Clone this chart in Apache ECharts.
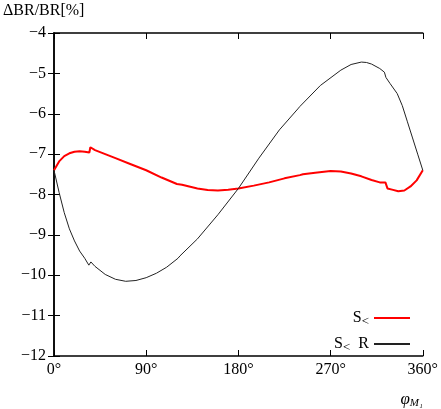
<!DOCTYPE html>
<html><head><meta charset="utf-8">
<script src="https://cdn.jsdelivr.net/npm/echarts@6/dist/echarts.min.js"></script>
<style>html,body{margin:0;padding:0;background:#fff}#c{width:441px;height:409px}</style>
</head><body><div id="c"></div>
<script>
const redX = [0,5,10,15,20,25,30,34.5,35.5,40,50,60,75,90,105,120,125,140,150,160,170,180,195,210,225,240,243,255,270,280,290,300,310,318,323.5,325.5,330,336,342,348,354,360];
const redY = [-7.4,-7.18,-7.05,-6.98,-6.94,-6.93,-6.94,-6.96,-6.83,-6.9,-7.0,-7.1,-7.25,-7.4,-7.58,-7.74,-7.76,-7.85,-7.89,-7.9,-7.88,-7.85,-7.78,-7.7,-7.6,-7.52,-7.5,-7.46,-7.42,-7.43,-7.48,-7.55,-7.64,-7.7,-7.7,-7.85,-7.88,-7.92,-7.9,-7.8,-7.65,-7.4];
const blkX = [0,5,10,15,20,25,30,34,36,40,50,60,70,80,90,100,110,121,123,140,160,180,200,220,238,240,260,280,290,300,305,310,318,322.5,324,328,335,340,345,350,355,360];
const blkY = [-7.4,-7.95,-8.45,-8.85,-9.15,-9.4,-9.58,-9.75,-9.67,-9.78,-9.98,-10.1,-10.15,-10.13,-10.06,-9.95,-9.8,-9.58,-9.52,-9.1,-8.5,-7.85,-7.1,-6.4,-5.88,-5.82,-5.3,-4.92,-4.78,-4.72,-4.73,-4.77,-4.88,-4.97,-5.1,-5.25,-5.5,-5.8,-6.2,-6.6,-7.0,-7.4];
const xTicks = [0,90,180,270,360];
const yMin=-12, yMax=-4;
const F='"Liberation Serif","DejaVu Serif",serif';
const zip=(a,b)=>a.map((v,i)=>[v,b[i]]);
const chart=echarts.init(document.getElementById('c'));
const ax={lineStyle:{color:'#000',width:1.5}};
chart.setOption({
  animation:false,
  textStyle:{fontFamily:F},
  grid:{left:51,right:13,top:33,bottom:46},
  xAxis:[{type:'value',min:0,max:360,interval:90,
    axisLine:ax,axisTick:{inside:true,length:6,lineStyle:{color:'#000'}},splitLine:{show:false},
    axisLabel:{color:'#000',fontSize:16,fontFamily:F,margin:6,formatter:v=>v+'°'},
    name:'{a|φ}{b|M₁}',nameLocation:'end',nameGap:0,
    nameTextStyle:{align:'right',verticalAlign:'top',padding:[34,0,0,0],rich:{a:{fontSize:17,fontStyle:'italic',fontFamily:F},b:{fontSize:11,fontStyle:'italic',fontFamily:F,padding:[8,0,0,0]}}}},
   {type:'value',position:'top',min:0,max:360,interval:90,axisLine:ax,axisTick:{inside:true,length:6,lineStyle:{color:'#000'}},axisLabel:{show:false},splitLine:{show:false}}],
  yAxis:[{type:'value',min:yMin,max:yMax,interval:1,
    axisLine:ax,axisTick:{inside:true,length:6,lineStyle:{color:'#000'}},splitLine:{show:false},
    axisLabel:{color:'#000',fontSize:16,fontFamily:F,margin:8,formatter:v=>String(v).replace('-','−')},
    name:'ΔBR/BR[%]',nameLocation:'end',nameGap:14,
    nameTextStyle:{color:'#000',fontSize:16,fontFamily:F,align:'left',padding:[0,0,0,-51]}},
   {type:'value',position:'right',min:yMin,max:yMax,interval:1,axisLine:ax,axisTick:{inside:true,length:6,lineStyle:{color:'#000'}},axisLabel:{show:false},splitLine:{show:false}}],
  legend:{right:26,bottom:50,orient:'vertical',align:'right',itemWidth:36,itemHeight:2,itemGap:8,icon:'rect',
    textStyle:{fontSize:16,fontFamily:F,color:'#000',rich:{s:{fontSize:16,fontFamily:F},u:{fontSize:13,fontFamily:F,padding:[7,0,0,0]}}},
    formatter:n=>n==='S<'?'{s|S}{u|<}':'{s|S}{u|<}{s|  R}',
    data:[{name:'S<',icon:'rect'},{name:'S< R',icon:'rect'}]},
  series:[
    {name:'S<',type:'line',data:zip(redX,redY),showSymbol:false,symbol:'none',lineStyle:{color:'#ff0000',width:2},itemStyle:{color:'#ff0000'}},
    {name:'S< R',type:'line',data:zip(blkX,blkY),showSymbol:false,symbol:'none',lineStyle:{color:'#222',width:1},itemStyle:{color:'#222'}}
  ]
});
</script></body></html>
